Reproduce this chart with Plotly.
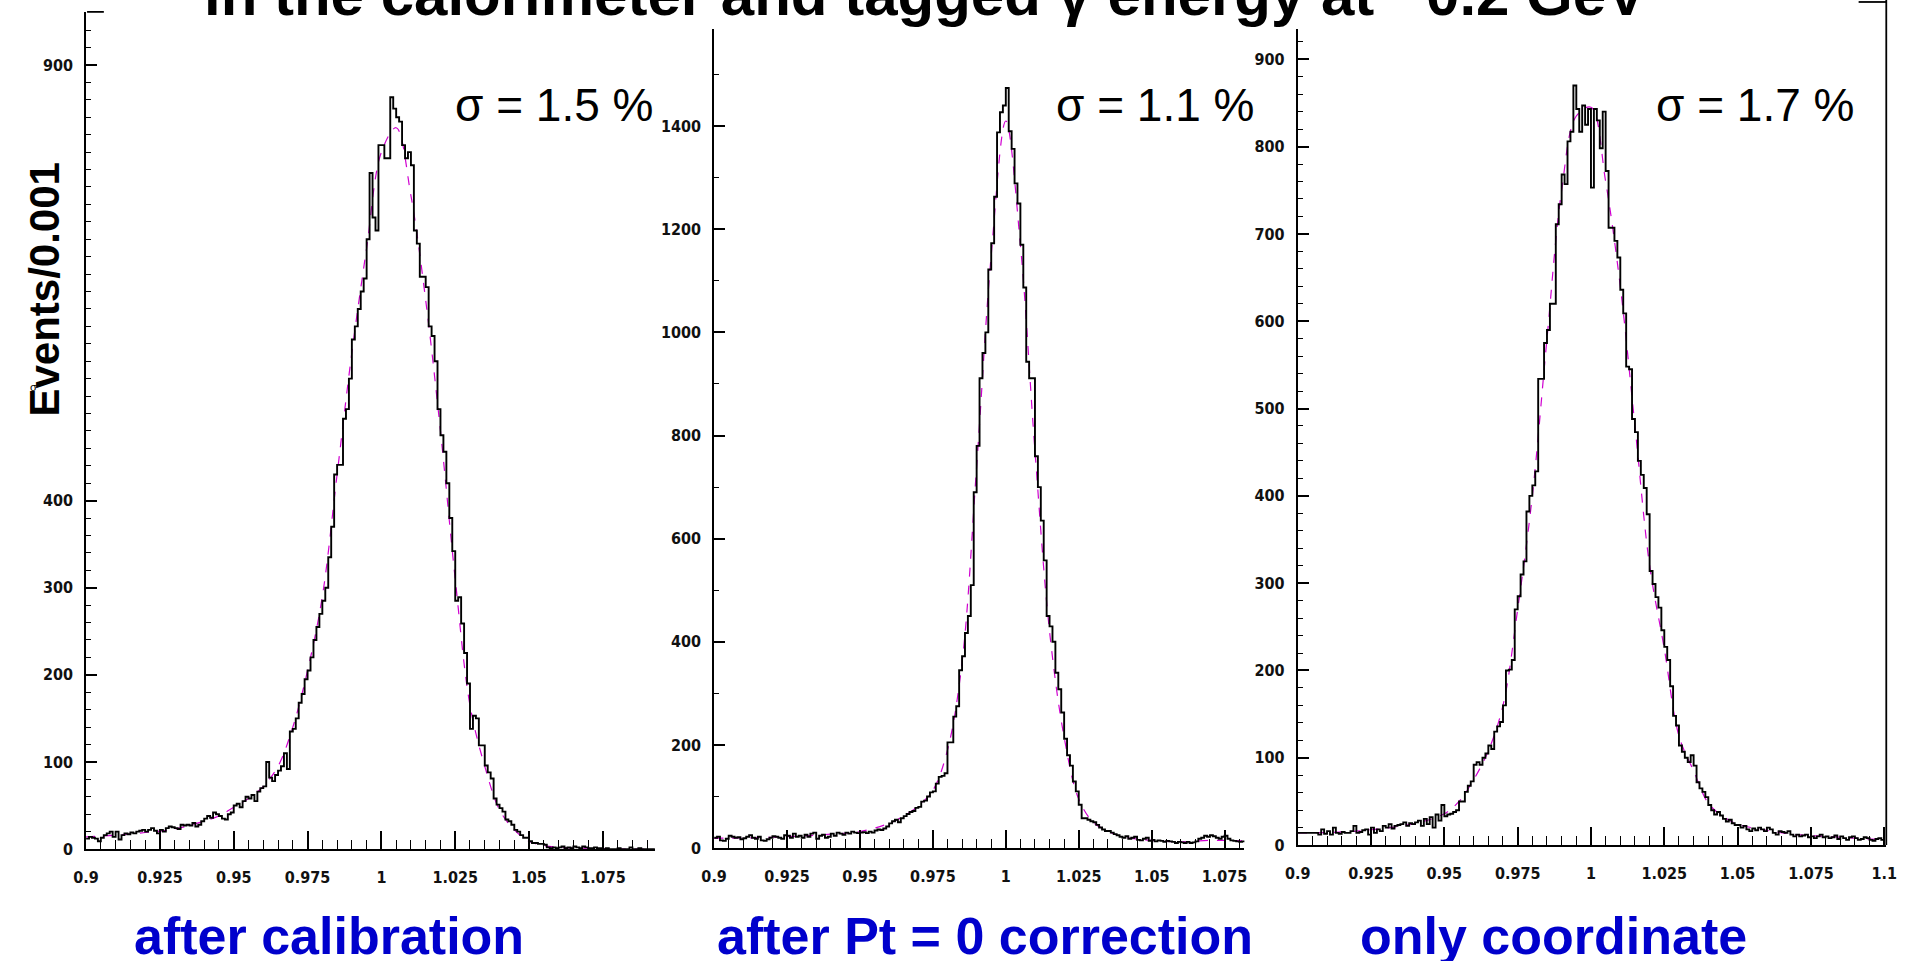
import plotly.graph_objects as go

W, H = 1919, 961

# ---------------- data ----------------
BIN_START = 0.900
BIN_WIDTH = 0.001

# panel 1: after calibration  (bins 0.900 .. 1.092)
P1_COUNTS = [
    12, 14, 13, 12, 9, 13, 16, 18, 20, 14,
    20, 11, 16, 18, 17, 19, 18, 20, 21, 22,
    20, 22, 24, 21, 18, 22, 20, 24, 26, 25,
    24, 23, 28, 27, 28, 27, 30, 26, 28, 32,
    35, 38, 36, 42, 40, 38, 35, 34, 40, 42,
    50, 52, 48, 55, 60, 58, 62, 55, 66, 70,
    72, 100, 82, 78, 85, 90, 95, 110, 92, 135,
    138, 150, 168, 178, 195, 205, 220, 240, 255, 270,
    285, 300, 335, 370, 430, 441, 441, 494, 505, 540,
    585, 600, 620, 640, 655, 700, 776, 725, 710, 808,
    808, 793, 793, 863, 850, 840, 835, 808, 793, 800,
    785, 710, 695, 657, 657, 645, 600, 589, 560, 505,
    475, 456, 420, 380, 342, 285, 289, 259, 225, 190,
    138, 153, 150, 119, 119, 96, 88, 81, 58, 51,
    47, 43, 34, 32, 28, 22, 20, 16, 13, 13,
    9, 7, 7, 6, 6, 5, 2, 1, 2, 1,
    2, 3, 1, 2, 1, 3, 2, 1, 3, 2,
    1, 1, 2, 1, 1, 0, 1, 0, 0, 0,
    1, 0, 0, 0, 2, 0, 0, 1, 0, 0,
    0, 0, 0,
]

# panel 2: after Pt = 0 correction  (bins 0.900 .. 1.081)
P2_COUNTS = [
    20, 22, 15, 14, 18, 24, 22, 20, 21, 17,
    19, 22, 25, 20, 18, 22, 15, 14, 17, 20,
    23, 22, 20, 18, 25, 24, 20, 28, 22, 24,
    20, 26, 22, 28, 30, 18, 24, 26, 20, 22,
    28, 24, 30, 28, 26, 30, 28, 32, 30, 29,
    30, 31, 29, 32, 30, 34, 36, 35, 38, 42,
    48, 52, 55, 50, 58, 62, 66, 70, 72, 78,
    80, 90, 92, 100, 108, 110, 125, 138, 140, 145,
    205, 205, 255, 275, 345, 372, 417, 450, 510, 690,
    780, 911, 960, 1000, 1122, 1173, 1263, 1388, 1427, 1440,
    1474, 1390, 1356, 1289, 1250, 1170, 1087, 943, 911, 911,
    760, 700, 635, 558, 450, 430, 400, 340, 308, 263,
    212, 180, 160, 129, 110, 84, 58, 58, 55, 52,
    50, 45, 40, 36, 33, 33, 30, 27, 25, 22,
    20, 23, 18, 20, 22, 16, 15, 18, 20, 14,
    16, 13, 15, 14, 12, 14, 13, 12, 10, 12,
    11, 10, 12, 10, 11, 13, 18, 20, 24, 22,
    25, 23, 20, 18, 22, 24, 18, 15, 14, 13,
    12, 13,
]

# panel 3: only coordinate  (bins 0.900 .. 1.099)
P3_COUNTS = [
    14, 14, 14, 14, 14, 14, 14, 12, 18, 13,
    16, 12, 20, 14, 13, 15, 14, 14, 16, 22,
    14, 15, 17, 18, 12, 20, 14, 18, 16, 22,
    20, 24, 19, 22, 23, 24, 26, 22, 25, 24,
    26, 28, 22, 30, 24, 32, 20, 35, 28, 46,
    33, 35, 36, 38, 40, 50, 50, 61, 68, 73,
    92, 95, 92, 100, 105, 114, 110, 130, 136, 141,
    160, 200, 201, 212, 270, 285, 310, 325, 382, 400,
    412, 428, 534, 534, 575, 590, 620, 620, 711, 734,
    768, 757, 806, 817, 870, 843, 817, 847, 825, 843,
    753, 843, 830, 798, 840, 772, 707, 707, 692, 673,
    636, 609, 548, 545, 488, 473, 440, 424, 409, 379,
    314, 299, 284, 272, 246, 227, 212, 182, 148, 137,
    114, 107, 100, 95, 103, 91, 72, 65, 61, 55,
    46, 40, 35, 38, 34, 30, 27, 29, 25, 23,
    23, 20, 22, 18, 16, 19, 17, 20, 18, 16,
    20, 18, 14, 12, 16, 15, 14, 16, 12, 10,
    12, 10, 11, 12, 9, 10, 8, 10, 12, 9,
    10, 8, 9, 11, 7, 10, 8, 6, 9, 10,
    8, 6, 7, 9, 8, 6, 5, 7, 8, 6,
]

# fitted curves (magenta dashed)
FIT1_X = [0.900, 0.910, 0.920, 0.930, 0.940, 0.945, 0.950, 0.955, 0.960, 0.965, 0.970,
          0.975, 0.980, 0.985, 0.990, 0.995, 1.000, 1.005, 1.010, 1.015, 1.020, 1.025,
          1.030, 1.035, 1.040, 1.045, 1.050, 1.055, 1.060, 1.070, 1.080, 1.092]
FIT1_Y = [14, 16, 19, 23, 32, 38, 48, 58, 72, 95, 140,
          205, 290, 430, 570, 690, 800, 828, 750, 630, 480, 310,
          165, 95, 45, 22, 9, 4, 2, 1, 0, 0]

FIT2_X = [0.900, 0.920, 0.940, 0.950, 0.960, 0.965, 0.970, 0.975, 0.980, 0.985, 0.990,
          0.995, 1.000, 1.005, 1.010, 1.015, 1.020, 1.025, 1.030, 1.035, 1.040, 1.050,
          1.060, 1.070, 1.081]
FIT2_Y = [19, 21, 27, 32, 48, 62, 82, 112, 190, 360, 740,
          1150, 1410, 1170, 770, 420, 215, 95, 50, 33, 22, 15,
          12, 15, 14]

FIT3_X = [0.900, 0.920, 0.940, 0.950, 0.955, 0.960, 0.965, 0.970, 0.975, 0.980, 0.985,
          0.990, 0.995, 1.000, 1.005, 1.010, 1.015, 1.020, 1.025, 1.030, 1.035, 1.040,
          1.045, 1.050, 1.060, 1.070, 1.080, 1.090, 1.100]
FIT3_Y = [14, 16, 25, 36, 50, 75, 108, 160, 270, 400, 580,
          750, 835, 845, 760, 640, 480, 320, 225, 125, 85, 48,
          33, 24, 17, 12, 10, 8, 6]

SIGMA_TEXT = ["σ = 1.5 %", "σ = 1.1 %", "σ = 1.7 %"]
PANEL_LABELS = ["after calibration", "after Pt = 0 correction", "only coordinate"]
TITLE = "in the calorimeter and tagged γ energy at ~0.2 GeV"
Y_TITLE = "Events/0.001"

X_TICKS = [0.9, 0.925, 0.95, 0.975, 1.0, 1.025, 1.05, 1.075, 1.1]
X_TICKTEXT = ["0.9", "0.925", "0.95", "0.975", "1", "1.025", "1.05", "1.075", "1.1"]
Y1_TICKS = [0, 100, 200, 300, 400, 500, 600, 700, 800, 900]
Y1_TICKTEXT = ["0", "100", "200", "300", "400", "", "", "", "", "900"]
Y2_TICKS = [0, 200, 400, 600, 800, 1000, 1200, 1400]
Y2_TICKTEXT = ["0", "200", "400", "600", "800", "1000", "1200", "1400"]
Y3_TICKS = [0, 100, 200, 300, 400, 500, 600, 700, 800, 900]
Y3_TICKTEXT = ["0", "100", "200", "300", "400", "500", "600", "700", "800", "900"]

# ---------------- layout geometry (pixels) ----------------
PANELS = [
    dict(box=(74, 650, 12, 858), xmax=1.0926, ymax=961, yt=Y1_TICKS, ytt=Y1_TICKTEXT, ymin_dt=20),
    dict(box=(710, 1247, 29, 857), xmax=1.0818, ymax=1589, yt=Y2_TICKS, ytt=Y2_TICKTEXT, ymin_dt=100),
    dict(box=(1301, 1897, 29, 854), xmax=1.1007, ymax=935, yt=Y3_TICKS, ytt=Y3_TICKTEXT, ymin_dt=20),
]
COUNTS = [P1_COUNTS, P2_COUNTS, P3_COUNTS]
FITS = [(FIT1_X, FIT1_Y), (FIT2_X, FIT2_Y), (FIT3_X, FIT3_Y)]


def px(x, y):
    return x / W, 1 - y / H


TICK_FONT = dict(family="Liberation Sans Narrow, DejaVu Sans Condensed, Liberation Sans, Arial",
                 size=16, color="#111111", weight="bold")

fig = go.Figure()

for i, (p, counts, (fx, fy)) in enumerate(zip(PANELS, COUNTS, FITS)):
    n = i + 1
    xa = "x" if n == 1 else f"x{n}"
    ya = "y" if n == 1 else f"y{n}"
    edges = [round(BIN_START + k * BIN_WIDTH, 4) for k in range(len(counts) + 1)]
    ys = list(counts) + [counts[-1]]
    fig.add_trace(go.Scatter(
        x=fx, y=fy, mode="lines", line=dict(color="#d000d0", width=1.2, dash="dash", shape="spline"),
        xaxis=xa, yaxis=ya, showlegend=False, hoverinfo="skip"))
    fig.add_trace(go.Scatter(
        x=edges, y=ys, mode="lines", line=dict(color="black", width=1.9, shape="hv"),
        xaxis=xa, yaxis=ya, showlegend=False))

    l, r, t, b = p["box"]
    xdom = [l / W, r / W]
    ydom = [1 - b / H, 1 - t / H]
    minor_x = [round(0.9 + k * 0.005, 3) for k in range(0, 41)]
    minor_y = list(range(0, int(p["ymax"]) + 1, p["ymin_dt"]))
    xkey = "xaxis" if n == 1 else f"xaxis{n}"
    ykey = "yaxis" if n == 1 else f"yaxis{n}"
    fig.update_layout(**{
        xkey: dict(domain=xdom, range=[0.9, p["xmax"]], anchor=ya,
                   showline=True, linecolor="black", linewidth=1.8, showgrid=False, zeroline=False,
                   tickmode="array", tickvals=X_TICKS, ticktext=X_TICKTEXT,
                   ticks="inside", ticklen=18, tickwidth=1.5, tickcolor="black",
                   tickfont=TICK_FONT, ticklabelstandoff=13,
                   minor=dict(tickmode="array", tickvals=minor_x, ticks="inside", ticklen=9,
                              tickwidth=1.2, tickcolor="black", showgrid=False)),
        ykey: dict(domain=ydom, range=[0, p["ymax"]], anchor=xa,
                   showline=True, linecolor="black", linewidth=1.8, showgrid=False, zeroline=False,
                   tickmode="array", tickvals=p["yt"], ticktext=p["ytt"],
                   ticks="inside", ticklen=11, tickwidth=1.5, tickcolor="black",
                   tickfont=TICK_FONT, ticklabelstandoff=8,
                   minor=dict(tickmode="array", tickvals=minor_y, ticks="inside", ticklen=5,
                              tickwidth=1.2, tickcolor="black", showgrid=False)),
    })

annotations = []
# title (cut at the top of the picture, as in the original slide)
tx, ty = px(924, 30)
annotations.append(dict(text="<b>" + TITLE + "</b>", x=tx, y=ty, xref="paper", yref="paper",
                        xanchor="center", yanchor="bottom", showarrow=False,
                        font=dict(family="Liberation Sans, Arial", size=60, color="black")))
# sigma labels
for (cx, cy), s in zip([(548, 106), (1156, 106), (1764, 106)], SIGMA_TEXT):
    ax, ay = px(cx, cy)
    annotations.append(dict(text=s, x=ax, y=ay, xref="paper", yref="paper",
                            xanchor="center", yanchor="middle", showarrow=False,
                            font=dict(family="Liberation Sans, Arial", size=46, color="black")))
# panel labels
for cx, s in zip([320, 984, 1560], PANEL_LABELS):
    ax, ay = px(cx, 915)
    annotations.append(dict(text="<b>" + s + "</b>", x=ax, y=ay, xref="paper", yref="paper",
                            xanchor="center", yanchor="top", showarrow=False,
                            font=dict(family="Liberation Sans, Arial", size=52, color="#0000cc")))
# y title
ax, ay = px(32, 292)
annotations.append(dict(text="<b>" + Y_TITLE + "</b>", x=ax, y=ay, xref="paper", yref="paper",
                        xanchor="center", yanchor="middle", textangle=-90, showarrow=False,
                        font=dict(family="Liberation Sans, Arial", size=42, color="black")))
# stray small sigma glyph near the y title
ax, ay = px(21, 391)
annotations.append(dict(text="σ", x=ax, y=ay, xref="paper", yref="paper",
                        xanchor="center", yanchor="middle", showarrow=False,
                        font=dict(family="Liberation Sans, Arial", size=11, color="black")))

shapes = []
# frame pieces of the original slide image
for (x0, y0, x1, y1) in [(1897, 0, 1897, 854), (1869, 2, 1897, 2), (75, 12, 92, 12)]:
    a0, b0 = px(x0, y0)
    a1, b1 = px(x1, y1)
    shapes.append(dict(type="line", xref="paper", yref="paper", x0=a0, y0=b0, x1=a1, y1=b1,
                       line=dict(color="black", width=1.8)))

fig.update_layout(width=W, height=H, autosize=False,
                  margin=dict(l=0, r=0, t=0, b=0),
                  paper_bgcolor="white", plot_bgcolor="white",
                  annotations=annotations, shapes=shapes, showlegend=False)

fig.write_html("out.html")
